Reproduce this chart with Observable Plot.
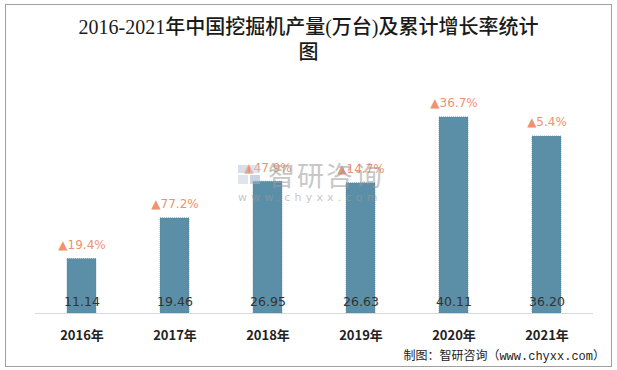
<!DOCTYPE html>
<html><head><meta charset="utf-8">
<script src="https://cdn.jsdelivr.net/npm/d3@7"></script>
<script src="https://cdn.jsdelivr.net/npm/@observablehq/plot@0.6"></script>
<style>
html,body{margin:0;padding:0;background:#fff;}
#frame{position:absolute;left:5px;top:4px;width:605px;height:361px;border:1px solid #a0a0a0;box-sizing:content-box;}
#title{position:absolute;left:0;top:15px;width:617px;text-align:center;font-family:"Liberation Serif","Noto Sans CJK SC",serif;font-size:20px;line-height:25px;color:#1a1a1a;font-weight:500;}
#chart{position:absolute;left:0;top:68px;}
#wm{position:absolute;left:236px;top:159px;width:150px;height:50px;pointer-events:none;opacity:0.55;}
#wm .cn{position:absolute;left:32px;top:2px;font-family:"Noto Sans CJK SC",sans-serif;font-size:27px;line-height:28px;color:#9a9a9a;letter-spacing:2px;}
#wm .en{position:absolute;left:2px;top:33px;font-family:"DejaVu Sans",sans-serif;font-size:11px;line-height:12px;color:#9a9a9a;letter-spacing:4.2px;}
#wm .logo{position:absolute;left:2px;top:6px;width:24px;height:20px;}
#caption{position:absolute;right:12px;top:346px;font-family:"Liberation Mono","Noto Sans CJK SC",monospace;font-size:12px;color:#222;white-space:nowrap;}
</style></head>
<body>
<div id="frame"></div>
<div id="title">2016-2021年中国挖掘机产量(万台)及累计增长率统计<br>图</div>
<div id="chart"></div>
<div id="wm">
  <svg class="logo" viewBox="0 0 24 20"><rect x="0" y="0" width="10" height="8" fill="#b8c4d8"/><rect x="12" y="0" width="10" height="8" fill="#c8d0e0"/><rect x="0" y="10" width="10" height="9" fill="#c8d0e0"/><rect x="12" y="10" width="10" height="9" fill="#9fb0c8"/></svg>
  <div class="cn">智研咨询</div>
  <div class="en">www.chyxx.com</div>
</div>
<div id="caption">制图：智研咨询（www.chyxx.com）</div>
<script>
const years = ["2016年","2017年","2018年","2019年","2020年","2021年"];
const output = [11.14, 19.46, 26.95, 26.63, 40.11, 36.20];
const growth = [19.4, 77.2, 47.9, 14.7, 36.7, 5.4];

const data = years.map((y, i) => ({year: y, value: output[i], growth: growth[i]}));

const chart = Plot.plot({
  width: 617,
  height: 280,
  marginLeft: 35,
  marginRight: 24,
  marginTop: 25,
  marginBottom: 35,
  style: {fontFamily: "Noto Sans CJK SC, sans-serif", background: "transparent"},
  x: {domain: years, paddingInner: 0.69, paddingOuter: 0.345, label: null},
  y: {domain: [0, 45], axis: null},
  marks: [
    Plot.barY(data, {x: "year", y: "value", fill: "#5b8fa8", stroke: "#4d7f98", strokeDasharray: "1,1", strokeWidth: 0.6}),
    Plot.ruleY([0], {stroke: "#d9d9d9", strokeWidth: 1.2}),
    Plot.text(data, {x: "year", y: 0, text: d => d.value.toFixed(2), dy: -12, fill: "#333", fontSize: 12.5, fontFamily: "DejaVu Sans, sans-serif"}),
    Plot.text(data, {x: "year", y: "value", text: d => "▲" + d.growth + "%", dy: -14, fill: "#f0916f", fontSize: 12, fontFamily: "DejaVu Sans, sans-serif"}),
    Plot.axisX({tickSize: 0, tickPadding: 17, fontSize: 13, fontWeight: "bold", color: "#222", label: null})
  ]
});
document.getElementById("chart").appendChild(chart);
</script>
</body></html>
